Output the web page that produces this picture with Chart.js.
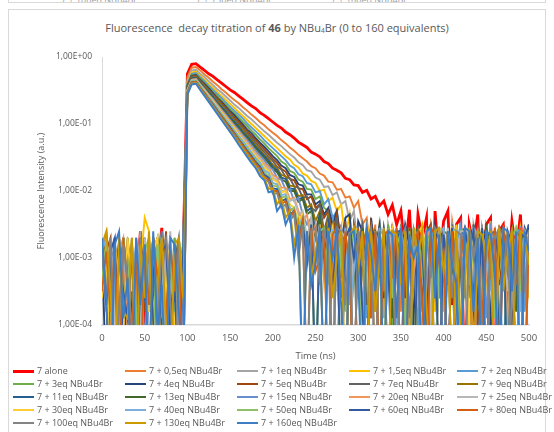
<!DOCTYPE html>
<html>
<head>
<meta charset="utf-8">
<script src="https://cdn.jsdelivr.net/npm/chart.js@4.4.1/dist/chart.umd.min.js"></script>
<style>
    body { margin: 0; width: 554px; height: 432px; overflow: hidden; background: #fff; position: relative; font-family: "Open Sans", sans-serif; color: #595959; }
    #prev { position: absolute; left: 8px; top: -30px; width: 536px; height: 31px; border: 1px solid #d9d9d9; overflow: hidden; }
    #prev span { position: absolute; top: 22px; font-size: 9px; white-space: nowrap; color: #a0a0a0; }
    #card { position: absolute; left: 8px; top: 9px; width: 536px; height: 460px; border: 1px solid #d9d9d9; }
    #title { position: absolute; left: 0; top: 20px; width: 554px; text-align: center; font-size: 11px; white-space: nowrap; }
    #title sub { font-size: 6.5px; vertical-align: -1px; }
    #chart { position: absolute; left: 0; top: 0; }
    #legend { position: absolute; left: 0; top: 364px; width: 554px; font-size: 9px; line-height: 13px; }
    .item { position: absolute; white-space: nowrap; }
    .swatch { display: inline-block; width: 21px; height: 2px; vertical-align: middle; margin-right: 3px; margin-top: -1px; }
</style>
</head>
<body>
<div id="prev"><span style="left:52px">7 + 100eq NBu4Br</span><span style="left:187px">7 + 130eq NBu4Br</span><span style="left:322px">7 + 160eq NBu4Br</span></div>
<div id="card"></div>
<div id="title">Fluorescence&nbsp; decay titration of <b>46</b> by NBu<sub>4</sub>Br (0 to 160 equivalents)</div>
<canvas id="chart" width="554" height="432"></canvas>
<div id="legend"></div>
<script>
// time axis: one reading every 5 ns from 0 to 500 ns
const timeStep = 5;
const xTicks = [0, 50, 100, 150, 200, 250, 300, 350, 400, 450, 500];
const yTicks = [1e-4, 1e-3, 1e-2, 1e-1, 1];

const seriesLabels = ["7 alone", "7 + 0,5eq NBu4Br", "7 + 1eq NBu4Br", "7 + 1,5eq NBu4Br", "7 + 2eq NBu4Br",
    "7 + 3eq NBu4Br", "7 + 4eq NBu4Br", "7 + 5eq NBu4Br", "7 + 7eq NBu4Br", "7 + 9eq NBu4Br",
    "7 + 11eq NBu4Br", "7 + 13eq NBu4Br", "7 + 15eq NBu4Br", "7 + 20eq NBu4Br", "7 + 25eq NBu4Br",
    "7 + 30eq NBu4Br", "7 + 40eq NBu4Br", "7 + 50eq NBu4Br", "7 + 60eq NBu4Br", "7 + 80eq NBu4Br",
    "7 + 100eq NBu4Br", "7 + 130eq NBu4Br", "7 + 160eq NBu4Br"];

const seriesColors = ["#FF0000", "#ED7D31", "#A5A5A5", "#FFC000", "#5B9BD5", "#70AD47", "#264478", "#9E480E",
    "#636363", "#997300", "#255E91", "#43682B", "#698ED0", "#F1975A", "#B7B7B7", "#FFCD33", "#7CAFDD",
    "#8CC168", "#335AA1", "#D26012", "#848484", "#CC9A00", "#3C7DC4"];

// log10 of intensity (a.u.); -5 = below the 1E-04 floor
const logAlone = [-3.0,-2.7,-4.1,-3.3,-2.8,-3.6,-2.9,-5,-3.4,-2.6,-3.9,-5,-2.9,-3.2,-2.55,-3.7,-2.8,-5,-3.3,-2.9,
    -0.25,-0.11,-0.10,
    -0.15,-0.20,-0.25,-0.29,-0.34,-0.39,-0.44,-0.49,-0.53,-0.58,-0.63,-0.68,-0.73,-0.77,-0.83,-0.87,-0.92,-0.97,-1.02,-1.06,
    -1.12,-1.16,-1.21,-1.27,-1.31,-1.35,-1.42,-1.45,-1.49,-1.56,-1.59,-1.66,-1.69,-1.73,-1.81,-1.83,-1.91,-1.92,-2.02,-1.99,
    -2.12,-2.08,-2.22,-2.15,-2.35,-2.21,
    -2.5,-2.3,-2.9,-2.28,-3.4,-2.35,-2.7,-2.4,-5,-2.3,-3.1,-2.45,-2.3,-3.7,-2.5,-2.4,-5,-2.5,-2.8,-2.35,
    -4.0,-2.5,-2.4,-5,-2.6,-2.5,-3.3,-2.45,-2.9,-2.35,-3.6,-2.5];
const logEq0_5 = [-2.8,-3.5,-2.9,-5,-3.2,-2.7,-4.0,-3.1,-5,-2.8,-3.6,-2.9,-4.3,-2.7,-3.3,-5,-3.8,-2.8,-3.0,-3.4,
    -0.30,-0.16,-0.15,
    -0.20,-0.26,-0.31,-0.37,-0.42,-0.48,-0.53,-0.59,-0.64,-0.69,-0.75,-0.80,-0.86,-0.91,-0.97,-1.02,-1.08,-1.13,-1.18,-1.24,
    -1.29,-1.35,-1.40,-1.46,-1.51,-1.56,-1.63,-1.66,-1.74,-1.77,-1.86,-1.87,-1.98,-1.97,-2.1,-2.08,-2.25,-2.15,
    -2.5,-2.4,-3.0,-2.5,-5,-2.6,-3.4,-2.55,-2.9,-3.8,-2.5,-5,-2.7,-3.2,-2.6,-4.1,-2.5,-2.8,-5,-2.6,
    -3.5,-2.45,-2.9,-5,-2.6,-3.1,-2.7,-4.0,-2.5,-5,-2.8,-3.3,-2.55,-2.7,-5,-3.6,-2.6,-2.9,-3.2,-2.5];
const logEq1 = [-3.4,-2.9,-3.8,-2.7,-5,-3.1,-2.8,-4.2,-3.3,-2.6,-5,-3.5,-2.9,-3.9,-2.8,-3.2,-5,-2.7,-3.6,-3.0,
    -0.35,-0.20,-0.19,
    -0.25,-0.30,-0.36,-0.42,-0.48,-0.53,-0.59,-0.65,-0.71,-0.76,-0.82,-0.88,-0.93,-0.99,-1.05,-1.11,-1.16,-1.22,-1.28,-1.33,
    -1.39,-1.45,-1.50,-1.57,-1.61,-1.69,-1.71,-1.80,-1.83,-1.94,-1.93,-2.06,-2.02,-2.2,
    -2.15,-2.45,-2.3,-2.9,-2.5,-5,-2.6,-3.3,-2.55,-3.9,-2.5,-2.8,-5,-2.6,-3.1,-2.55,-3.7,-2.6,-5,-2.7,
    -2.5,-3.4,-2.65,-5,-2.9,-2.55,-4.2,-2.6,-3.0,-5,-2.5,-2.8,-3.5,-2.6,-5,-2.7,-3.2,-2.55,-3.9,-2.6,
    -5,-2.8,-2.6,-3.3];
const logEq1_5 = [-3.2,-2.8,-3.7,-5,-2.7,-3.4,-2.9,-4.1,-5,-3.1,-2.4,-2.6,-3.6,-2.7,-3.9,-2.8,-3.3,-5,-2.9,-3.5,
    -0.38,-0.23,-0.22,
    -0.28,-0.34,-0.40,-0.46,-0.52,-0.58,-0.64,-0.70,-0.76,-0.82,-0.88,-0.94,-1.00,-1.06,-1.12,-1.18,-1.24,-1.30,-1.36,-1.42,
    -1.48,-1.53,-1.61,-1.65,-1.74,-1.77,-1.85,-1.88,-2.0,-1.98,-2.15,-2.1,
    -2.3,-2.2,-2.7,-2.35,-3.2,-2.5,-5,-2.45,-2.9,-3.6,-2.5,-2.7,-5,-2.55,-3.3,-2.5,-4.0,-2.6,-5,-2.7,
    -2.5,-3.1,-2.6,-3.8,-2.55,-5,-2.7,-3.0,-2.5,-5,-2.6,-3.5,-2.55,-2.8,-5,-3.2,-2.45,-3.9,-2.65,-2.6,
    -5,-2.7,-3.4,-2.55,-2.9,-3.6];
const logEq2 = [-2.7,-3.4,-5,-2.8,-3.9,-2.9,-3.3,-5,-2.7,-3.6,-4.2,-2.8,-5,-3.1,-2.6,-3.7,-2.9,-4.0,-2.8,-5,
    -0.40,-0.25,-0.24,
    -0.30,-0.36,-0.43,-0.49,-0.55,-0.61,-0.68,-0.74,-0.80,-0.86,-0.92,-0.99,-1.05,-1.11,-1.17,-1.24,-1.30,-1.36,-1.42,-1.48,
    -1.54,-1.62,-1.66,-1.75,-1.78,-1.88,-1.9,-2.02,-2.0,-2.2,-2.12,
    -2.4,-2.3,-2.8,-2.45,-5,-2.55,-3.3,-2.6,-3.9,-2.5,-2.8,-5,-2.6,-3.5,-2.55,-2.7,-5,-2.5,-3.2,-2.65,
    -4.1,-2.6,-5,-2.7,-2.55,-3.0,-3.7,-2.6,-5,-2.8,-2.5,-3.6,-2.7,-3.1,-5,-2.55,-2.9,-4.0,-2.6,-2.7,
    -5,-2.6,-3.3,-2.65,-2.55,-3.8,-2.6];
const logEq3 = [-3.0,-2.8,-3.8,-2.7,-5,-3.5,-2.9,-4.2,-3.3,-5,-2.7,-3.4,-2.9,-3.9,-2.8,-5,-3.6,-2.7,-3.2,-2.9,
    -0.42,-0.27,-0.26,
    -0.32,-0.39,-0.45,-0.52,-0.58,-0.65,-0.71,-0.78,-0.84,-0.90,-0.97,-1.03,-1.10,-1.16,-1.23,-1.29,-1.36,-1.42,-1.48,-1.56,
    -1.60,-1.70,-1.73,-1.83,-1.86,-1.97,-1.98,-2.12,-2.08,-2.25,
    -2.3,-2.55,-2.4,-3.1,-2.5,-5,-2.6,-3.6,-2.55,-2.9,-2.6,-5,-2.7,-3.4,-2.5,-4.0,-2.6,-2.65,-5,-2.55,
    -3.2,-2.6,-3.8,-2.7,-5,-2.5,-2.9,-3.5,-2.7,-5,-3.1,-2.6,-2.55,-4.2,-2.65,-5,-2.6,-3.3,-2.55,-2.8,
    -3.7,-5,-2.8,-2.6,-3.0,-2.55,-5,-2.6];
const logEq4 = [-2.8,-5,-3.3,-2.7,-3.9,-2.9,-5,-3.7,-2.8,-3.4,-2.7,-5,-3.6,-2.9,-4.1,-3.3,-2.7,-5,-3.5,-2.8,
    -0.43,-0.28,-0.27,
    -0.34,-0.40,-0.47,-0.54,-0.61,-0.67,-0.74,-0.81,-0.87,-0.94,-1.01,-1.08,-1.14,-1.21,-1.28,-1.34,-1.41,-1.48,-1.54,-1.62,
    -1.66,-1.76,-1.79,-1.90,-1.92,-2.05,-2.05,-2.2,-2.15,
    -2.35,-2.25,-2.5,-2.3,-2.8,-2.4,-2.35,-3.2,-2.45,-2.6,-5,-2.4,-2.9,-2.5,-3.6,-2.55,-5,-2.6,-3.1,-2.5,
    -2.8,-4.0,-2.55,-5,-2.6,-3.3,-2.5,-2.9,-2.6,-5,-2.55,-3.7,-2.7,-2.6,-5,-2.5,-3.2,-2.8,-2.6,-3.9,
    -5,-2.65,-2.6,-3.4,-2.5,-5,-2.6,-3.0,-2.55];
const logEq5 = [-3.3,-2.9,-2.7,-5,-3.6,-4.0,-2.8,-3.2,-5,-2.7,-3.8,-3.0,-2.8,-5,-3.5,-2.6,-4.2,-2.8,-3.4,-5,
    -0.44,-0.29,-0.28,
    -0.35,-0.42,-0.49,-0.56,-0.62,-0.69,-0.76,-0.83,-0.90,-0.97,-1.04,-1.11,-1.18,-1.24,-1.31,-1.38,-1.45,-1.52,-1.58,-1.67,
    -1.71,-1.82,-1.84,-1.96,-1.97,-2.12,-2.08,-2.25,
    -2.2,-2.4,-2.3,-2.7,-2.35,-3.0,-2.45,-5,-2.5,-2.8,-2.55,-3.5,-2.5,-2.9,-5,-2.6,-3.3,-2.55,-4.0,-2.6,
    -5,-2.55,-3.1,-2.6,-3.7,-2.6,-2.5,-5,-2.65,-3.2,-2.6,-2.9,-3.8,-5,-2.6,-3.0,-2.6,-4.1,-2.7,-2.55,
    -5,-2.6,-3.4,-2.65,-2.9,-5,-2.55,-3.6,-2.7,-2.6];
const logEq7 = [-2.9,-3.7,-5,-2.8,-3.4,-2.7,-4.1,-2.9,-3.6,-5,-2.8,-3.3,-2.7,-3.9,-5,-2.9,-3.5,-3.1,-2.7,-3.8,
    -0.45,-0.30,-0.29,
    -0.36,-0.43,-0.50,-0.57,-0.64,-0.71,-0.78,-0.85,-0.93,-1.00,-1.07,-1.14,-1.21,-1.28,-1.35,-1.42,-1.49,-1.55,-1.64,-1.68,
    -1.79,-1.81,-1.93,-1.95,-2.1,-2.08,-2.25,
    -2.3,-2.2,-2.6,-2.35,-2.9,-2.4,-3.3,-2.5,-5,-2.55,-2.8,-2.5,-3.7,-2.6,-5,-2.7,-3.0,-2.9,-2.6,-5,
    -2.5,-3.5,-4.0,-2.6,-2.7,-5,-2.55,-3.1,-3.6,-2.6,-2.8,-5,-2.5,-3.3,-2.9,-2.65,-5,-2.6,-3.8,-3.2,
    -2.7,-2.6,-5,-2.55,-3.0,-2.6,-4.2,-2.65,-5,-2.6,-2.9];
const logEq9 = [-3.0,-2.7,-3.9,-2.9,-5,-2.8,-3.5,-2.7,-4.2,-3.6,-2.8,-5,-3.3,-3.8,-2.7,-3.1,-5,-2.8,-3.7,-2.9,
    -0.46,-0.31,-0.30,
    -0.37,-0.44,-0.52,-0.59,-0.66,-0.73,-0.81,-0.88,-0.95,-1.02,-1.09,-1.17,-1.24,-1.31,-1.38,-1.46,-1.52,-1.61,-1.66,-1.76,
    -1.78,-1.92,-1.93,-2.08,-2.06,-2.25,
    -2.2,-2.45,-2.3,-2.7,-2.4,-3.1,-2.5,-5,-2.6,-3.4,-2.55,-2.9,-2.7,-5,-2.55,-3.8,-3.0,-2.65,-5,-2.6,
    -2.9,-2.55,-3.5,-2.6,-5,-2.7,-3.2,-2.8,-4.1,-3.0,-5,-2.6,-2.65,-3.4,-2.6,-5,-2.55,-3.6,-2.7,-3.0,
    -2.8,-5,-2.6,-3.9,-2.55,-2.65,-3.3,-5,-2.7,-2.6,-3.1,-2.6];
const logEq11 = [-2.8,-3.5,-2.9,-5,-3.8,-2.7,-3.3,-5,-2.9,-4.0,-2.8,-3.6,-2.7,-5,-3.4,-2.9,-3.9,-4.3,-5,-2.9,
    -0.47,-0.32,-0.31,
    -0.38,-0.46,-0.53,-0.60,-0.68,-0.75,-0.82,-0.90,-0.97,-1.04,-1.12,-1.19,-1.26,-1.34,-1.41,-1.48,-1.55,-1.64,-1.69,-1.80,
    -1.82,-1.96,-1.97,-2.12,-2.1,
    -2.3,-2.25,-2.6,-2.35,-3.0,-2.45,-2.7,-5,-2.5,-3.5,-2.55,-3.1,-2.6,-5,-2.65,-3.9,-2.9,-2.55,-5,-2.6,
    -3.3,-2.7,-2.6,-4.0,-5,-2.7,-2.6,-3.2,-2.65,-5,-2.55,-3.6,-2.8,-3.4,-2.6,-5,-2.7,-2.55,-3.0,-3.7,
    -5,-2.65,-2.6,-3.1,-2.7,-4.2,-5,-2.6,-2.8,-3.5,-3.0,-2.55,-2.7];
const logEq13 = [-3.5,-2.8,-5,-3.1,-2.9,-4.0,-2.7,-3.4,-5,-3.7,-2.8,-3.2,-2.9,-2.7,-4.1,-5,-2.8,-3.6,-2.9,-3.3,
    -0.48,-0.33,-0.32,
    -0.39,-0.47,-0.54,-0.62,-0.69,-0.77,-0.84,-0.92,-0.99,-1.06,-1.14,-1.21,-1.29,-1.36,-1.44,-1.51,-1.58,-1.67,-1.72,-1.83,
    -1.86,-2.0,-2.0,-2.16,-2.12,
    -2.35,-2.3,-2.7,-2.4,-3.2,-2.5,-5,-2.6,-2.9,-3.6,-2.7,-2.6,-5,-2.55,-3.0,-3.4,-2.6,-2.7,-5,-2.55,
    -3.9,-2.6,-3.3,-2.6,-5,-2.65,-2.55,-3.1,-2.6,-2.8,-5,-2.6,-3.7,-2.55,-3.0,-5,-2.7,-2.6,-4.1,-3.5,
    -2.6,-5,-2.55,-2.9,-2.6,-3.2,-2.65,-5,-2.6,-3.8,-2.9,-2.6,-2.7];
const logEq15 = [-2.9,-3.8,-2.8,-3.4,-5,-2.7,-3.6,-2.9,-4.2,-2.8,-5,-3.3,-2.7,-3.0,-3.9,-2.8,-5,-3.5,-2.7,-4.0,
    -0.49,-0.34,-0.33,
    -0.41,-0.48,-0.56,-0.63,-0.71,-0.79,-0.86,-0.94,-1.02,-1.09,-1.17,-1.24,-1.32,-1.40,-1.47,-1.54,-1.63,-1.68,-1.80,-1.83,
    -1.98,-1.97,-2.15,-2.1,
    -2.35,-2.5,-2.4,-3.0,-2.5,-5,-2.6,-3.5,-2.55,-3.1,-2.6,-2.7,-5,-2.6,-3.8,-2.55,-3.3,-2.65,-5,-2.7,
    -2.6,-3.0,-2.55,-5,-2.6,-4.0,-3.2,-2.6,-2.55,-5,-2.65,-2.9,-3.6,-2.6,-5,-2.55,-3.4,-2.7,-2.6,-3.1,
    -2.65,-5,-2.6,-3.9,-2.55,-2.9,-2.7,-2.6,-5,-3.5,-2.6,-3.2,-2.55,-5];
const logEq20 = [-3.4,-2.8,-3.7,-5,-2.9,-2.7,-4.1,-2.8,-3.3,-5,-2.9,-3.8,-2.7,-3.5,-5,-2.8,-3.6,-2.9,-4.2,-2.8,
    -0.49,-0.34,-0.33,
    -0.41,-0.49,-0.57,-0.64,-0.72,-0.80,-0.88,-0.96,-1.04,-1.11,-1.19,-1.27,-1.35,-1.43,-1.50,-1.59,-1.64,-1.76,-1.80,-1.95,
    -1.95,-2.12,-2.1,
    -2.3,-2.45,-2.35,-2.8,-2.5,-3.3,-2.55,-5,-2.6,-2.9,-2.55,-3.7,-2.6,-5,-2.7,-3.1,-3.0,-2.55,-5,-2.6,
    -2.65,-3.5,-2.6,-2.9,-5,-2.55,-4.0,-3.2,-2.65,-5,-2.6,-2.7,-3.4,-2.55,-3.8,-2.6,-5,-2.65,-3.0,-2.9,
    -2.6,-5,-2.55,-3.6,-3.3,-2.6,-2.65,-5,-2.6,-4.1,-2.55,-3.0,-2.6,-5,-2.7];
const logEq25 = [-2.8,-3.6,-2.7,-3.9,-5,-2.9,-3.4,-2.8,-5,-4.0,-2.7,-3.2,-3.7,-5,-2.8,-3.5,-2.6,-3.9,-2.9,-5,
    -0.50,-0.35,-0.34,
    -0.42,-0.50,-0.58,-0.66,-0.74,-0.82,-0.90,-0.98,-1.05,-1.13,-1.21,-1.29,-1.37,-1.45,-1.52,-1.62,-1.67,-1.80,-1.84,-1.99,
    -2.0,-2.15,-2.12,
    -2.35,-2.3,-2.7,-2.4,-3.1,-2.5,-5,-2.55,-2.8,-3.5,-2.6,-2.7,-5,-2.55,-3.0,-3.9,-2.65,-5,-2.6,-3.3,
    -2.55,-2.9,-2.6,-5,-2.65,-3.6,-3.2,-2.55,-2.7,-5,-2.6,-4.0,-2.9,-2.65,-5,-2.55,-3.4,-3.0,-2.6,-2.6,
    -5,-2.7,-3.7,-2.55,-3.1,-2.65,-5,-2.6,-2.8,-3.5,-2.7,-5,-2.6,-3.2,-2.6];
const logEq30 = [-3.6,-2.9,-5,-2.8,-3.3,-4.1,-2.7,-3.5,-2.9,-5,-2.8,-3.8,-2.9,-2.7,-5,-3.4,-2.8,-4.0,-2.9,-3.2,
    -0.51,-0.36,-0.35,
    -0.43,-0.51,-0.59,-0.67,-0.75,-0.83,-0.91,-0.99,-1.07,-1.16,-1.24,-1.32,-1.40,-1.48,-1.55,-1.65,-1.70,-1.83,-1.86,-2.02,
    -2.0,-2.2,
    -2.25,-2.45,-2.35,-2.9,-2.5,-5,-2.55,-3.4,-2.9,-2.55,-5,-2.6,-3.7,-3.1,-2.6,-2.55,-5,-2.65,-3.3,-3.0,
    -2.6,-5,-2.7,-2.55,-3.9,-2.6,-3.3,-2.65,-5,-2.6,-2.55,-3.1,-2.6,-5,-2.7,-3.6,-3.1,-2.55,-2.65,-5,
    -2.6,-4.0,-2.6,-3.5,-2.55,-5,-2.7,-2.6,-3.2,-2.6,-2.65,-5,-2.55,-3.8,-2.6,-2.7];
const logEq40 = [-2.9,-2.7,-3.8,-3.3,-5,-2.8,-3.6,-4.2,-2.7,-3.4,-5,-2.9,-2.8,-3.7,-2.7,-5,-3.5,-2.9,-3.9,-2.8,
    -0.51,-0.36,-0.35,
    -0.43,-0.52,-0.60,-0.68,-0.76,-0.85,-0.93,-1.01,-1.10,-1.18,-1.26,-1.34,-1.43,-1.51,-1.58,-1.69,-1.73,-1.88,-1.90,-2.06,
    -2.05,-2.25,
    -2.3,-2.5,-2.4,-2.9,-2.5,-5,-2.6,-3.3,-3.0,-2.6,-2.7,-5,-2.55,-3.7,-3.2,-2.6,-5,-2.6,-2.8,-3.5,
    -2.55,-5,-2.6,-2.65,-4.0,-2.6,-2.9,-5,-2.55,-3.4,-2.8,-3.6,-2.6,-5,-2.65,-2.55,-3.1,-2.6,-3.9,-5,
    -2.6,-3.0,-2.55,-2.65,-5,-2.6,-3.5,-2.6,-3.2,-2.55,-5,-2.7,-2.6,-3.8,-2.65,-2.6];
const logEq50 = [-3.3,-2.8,-3.6,-5,-3.9,-2.7,-3.4,-2.8,-3.7,-5,-2.9,-2.7,-4.1,-2.8,-3.5,-5,-2.9,-3.8,-2.7,-3.2,
    -0.52,-0.37,-0.36,
    -0.44,-0.53,-0.61,-0.70,-0.78,-0.87,-0.95,-1.04,-1.12,-1.20,-1.29,-1.37,-1.46,-1.54,-1.62,-1.72,-1.78,-1.92,-1.93,-2.1,
    -2.08,
    -2.3,-2.25,-2.6,-2.4,-3.0,-2.5,-5,-2.6,-2.55,-3.4,-2.6,-5,-2.7,-3.8,-3.1,-2.55,-2.65,-5,-2.6,-3.2,
    -3.0,-2.6,-5,-2.55,-3.6,-2.8,-2.65,-4.1,-2.6,-5,-2.55,-3.3,-2.6,-2.9,-5,-2.6,-3.7,-3.1,-2.55,-2.6,
    -5,-2.7,-3.4,-2.8,-3.0,-2.55,-5,-2.6,-3.9,-2.9,-2.6,-5,-2.7,-2.55,-3.5,-2.6,-2.6];
const logEq60 = [-2.8,-3.7,-2.9,-2.7,-5,-3.5,-3.9,-2.8,-5,-3.3,-3.6,-2.7,-4.0,-5,-2.9,-2.8,-4.2,-3.4,-5,-2.9,
    -0.53,-0.38,-0.37,
    -0.46,-0.54,-0.63,-0.71,-0.80,-0.88,-0.97,-1.05,-1.14,-1.23,-1.31,-1.40,-1.48,-1.57,-1.64,-1.76,-1.80,-1.96,-1.97,-2.15,
    -2.12,
    -2.35,-2.3,-2.7,-2.45,-3.1,-2.5,-5,-2.6,-2.9,-2.55,-3.5,-2.6,-5,-2.7,-2.55,-3.0,-2.6,-3.8,-5,-2.6,
    -2.65,-3.3,-2.55,-3.0,-5,-2.6,-2.6,-3.6,-2.65,-5,-2.55,-2.9,-4.0,-2.6,-2.6,-5,-2.65,-3.2,-2.55,-3.5,
    -5,-2.6,-2.9,-2.6,-3.7,-2.55,-5,-2.65,-2.6,-3.1,-2.6,-5,-2.55,-3.4,-2.6,-2.7,-2.5];
const logEq80 = [-3.5,-2.9,-3.8,-2.8,-5,-2.7,-3.4,-4.1,-2.9,-5,-2.8,-3.7,-2.7,-3.3,-5,-3.9,-2.8,-3.5,-2.7,-5,
    -0.53,-0.38,-0.37,
    -0.46,-0.54,-0.63,-0.72,-0.81,-0.89,-0.98,-1.07,-1.15,-1.24,-1.33,-1.42,-1.50,-1.59,-1.67,-1.79,-1.83,-2.0,-2.0,-2.2,
    -2.15,-2.4,-2.3,-2.8,-2.45,-5,-2.55,-3.2,-3.0,-2.6,-5,-2.65,-2.55,-3.6,-2.6,-3.2,-5,-2.6,-2.9,-2.55,
    -3.9,-2.6,-5,-2.65,-2.6,-3.3,-2.55,-5,-2.7,-3.0,-2.8,-2.6,-3.7,-5,-2.55,-2.65,-3.1,-2.9,-5,-2.6,
    -3.5,-3.0,-2.55,-2.6,-5,-2.65,-4.0,-2.6,-3.2,-2.55,-5,-2.6,-2.9,-2.6,-3.4,-2.55,-5,-2.6];
const logEq100 = [-2.9,-3.6,-2.7,-5,-3.8,-2.8,-3.3,-4.0,-5,-2.7,-3.5,-2.8,-5,-3.9,-2.9,-2.7,-3.6,-5,-2.8,-3.7,
    -0.54,-0.39,-0.38,
    -0.47,-0.56,-0.64,-0.73,-0.82,-0.91,-1.00,-1.09,-1.17,-1.26,-1.35,-1.44,-1.53,-1.62,-1.69,-1.82,-1.86,-2.04,-2.03,-2.25,
    -2.2,-2.45,-2.35,-3.0,-2.5,-5,-2.6,-2.55,-3.4,-2.6,-2.9,-5,-2.55,-2.6,-3.7,-2.65,-5,-2.6,-3.1,-2.8,
    -2.55,-5,-2.6,-3.5,-2.65,-2.6,-5,-2.7,-2.55,-3.9,-2.6,-3.0,-5,-2.65,-3.3,-2.55,-2.7,-5,-2.6,-3.6,
    -2.6,-2.65,-5,-2.55,-3.0,-2.6,-4.1,-5,-2.6,-2.7,-2.55,-3.2,-2.6,-5,-2.65,-2.6,-3.5,-2.6];
const logEq130 = [-2.8,-2.6,-3.5,-5,-2.7,-3.8,-3.9,-2.7,-5,-2.8,-3.6,-2.6,-5,-3.4,-2.7,-4.0,-5,-2.8,-2.7,-3.6,
    -0.55,-0.40,-0.39,
    -0.48,-0.57,-0.66,-0.75,-0.84,-0.93,-1.02,-1.11,-1.20,-1.28,-1.37,-1.46,-1.55,-1.63,-1.75,-1.80,-1.97,-1.96,-2.2,
    -2.1,-2.4,-2.3,-2.8,-2.45,-5,-2.6,-3.3,-2.9,-2.6,-5,-2.55,-3.6,-3.0,-2.6,-5,-2.65,-2.55,-3.2,-2.6,
    -5,-2.6,-3.8,-3.1,-2.55,-5,-2.6,-2.65,-3.4,-2.6,-5,-2.55,-3.0,-2.6,-3.7,-5,-2.6,-2.55,-3.2,-2.65,
    -5,-2.6,-4.0,-3.3,-2.55,-5,-2.6,-2.65,-3.0,-2.6,-5,-2.55,-3.5,-2.9,-2.6,-5,-2.6,-2.65,-3.1];
const logEq160 = [-2.7,-3.6,-5,-2.8,-2.6,-3.9,-3.3,-5,-2.7,-3.7,-2.8,-5,-2.6,-4.1,-3.4,-5,-2.7,-2.8,-3.8,-5,
    -0.56,-0.41,-0.40,
    -0.49,-0.58,-0.67,-0.76,-0.85,-0.94,-1.03,-1.12,-1.21,-1.31,-1.40,-1.49,-1.58,-1.66,-1.78,-1.84,-2.02,-2.0,-2.3,
    -2.2,-2.5,-2.35,-3.0,-2.5,-5,-2.6,-3.4,-3.1,-2.55,-5,-2.6,-3.0,-2.6,-3.7,-5,-2.65,-2.6,-3.3,-5,
    -2.55,-2.9,-3.5,-2.6,-5,-2.6,-2.65,-3.9,-2.55,-5,-2.7,-3.0,-2.8,-5,-2.6,-2.55,-3.6,-2.65,-5,-2.6,
    -3.1,-3.4,-5,-2.55,-2.6,-3.8,-2.7,-5,-2.6,-2.65,-3.2,-5,-2.55,-2.6,-3.5,-2.6,-5,-2.65,-2.9];

const seriesLogs = [logAlone, logEq0_5, logEq1, logEq1_5, logEq2, logEq3, logEq4, logEq5, logEq7, logEq9,
    logEq11, logEq13, logEq15, logEq20, logEq25, logEq30, logEq40, logEq50, logEq60, logEq80,
    logEq100, logEq130, logEq160];


function formatExp(value) {
    const exp = Math.round(Math.log10(value));
    const sign = exp < 0 ? "-" : "+";
    return "1,00E" + sign + String(Math.abs(exp)).padStart(2, "0");
};

const textColor = "#595959";
const axisColor = "#d9d9d9";

const datasets = seriesLogs.map((logs, i) => ({
    label: seriesLabels[i],
    data: logs.map((v, j) => ({ x: j * timeStep, y: Math.pow(10, v) })),
    borderColor: seriesColors[i],
    backgroundColor: seriesColors[i],
    borderWidth: i === 0 ? 2.8 : 1.9,
    pointRadius: 0,
    tension: 0,
    // excel draws later series on top
    order: seriesLogs.length - i,
}));

new Chart(document.querySelector("#chart"), {
    type: "line",
    data: { datasets: datasets },
    options: {
        responsive: false,
        animation: false,
        layout: { padding: { left: 30, top: 57, right: 25, bottom: 66 } },
        plugins: {
            legend: { display: false },
            tooltip: { enabled: false },
        },
        scales: {
            x: {
                type: "linear",
                min: 0,
                max: 500,
                afterBuildTicks: (scale) => { scale.ticks = xTicks.map((v) => ({ value: v })); },
                grid: { display: false, drawTicks: false },
                border: { display: true, color: axisColor, width: 1.5 },
                ticks: { color: textColor, font: { family: "Open Sans", size: 9.5 }, padding: 8, maxRotation: 0 },
                title: { display: true, text: "Time (ns)", color: textColor, font: { family: "Open Sans", size: 9.5 }, padding: { top: 4, bottom: 4 } },
                afterFit: (scale) => { scale.height = 41; },
            },
            y: {
                type: "logarithmic",
                min: 1e-4,
                max: 1,
                afterBuildTicks: (scale) => { scale.ticks = yTicks.map((v) => ({ value: v })); },
                grid: { display: false, drawTicks: false },
                border: { display: true, color: axisColor, width: 1 },
                ticks: { color: textColor, font: { family: "Open Sans", size: 8.5 }, padding: 10, callback: (v) => formatExp(v) },
                title: { display: true, text: "Fluorescence Intensity (a.u.)", color: textColor, font: { family: "Open Sans", size: 9 }, padding: { top: 6, bottom: 4 } },
                afterFit: (scale) => { scale.width = 72; },
            },
        },
    },
});

// legend in five fixed columns like the excel one
const legendBox = document.querySelector("#legend");
const colLeft = [13, 125, 237, 349, 457];
seriesLabels.forEach((label, i) => {
    const item = document.createElement("div");
    item.className = "item";
    item.style.left = colLeft[i % 5] + "px";
    item.style.top = (Math.floor(i / 5) * 13) + "px";
    const sw = document.createElement("span");
    sw.className = "swatch";
    sw.style.background = seriesColors[i];
    if (i === 0) { sw.style.height = "3px"; }
    item.appendChild(sw);
    item.appendChild(document.createTextNode(label));
    legendBox.appendChild(item);
});
</script>
</body>
</html>
